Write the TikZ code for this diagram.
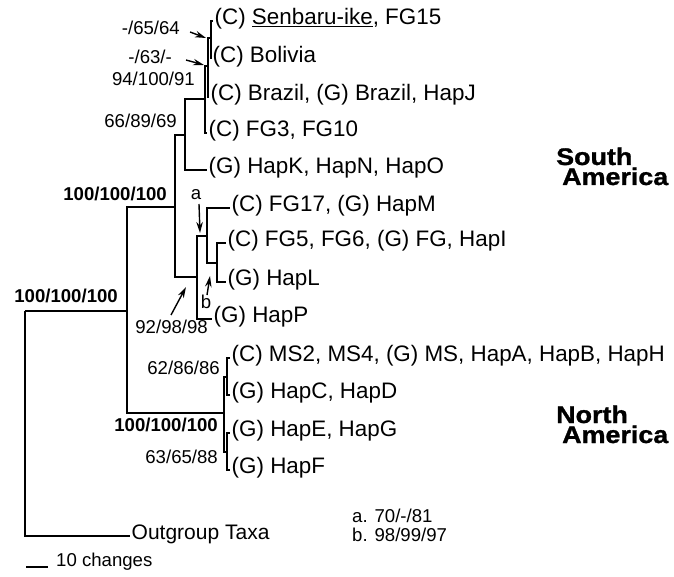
\documentclass[tikz,border=0pt]{standalone}
\usepackage{fontspec}
\setmainfont{Liberation Sans}
\newfontfamily\regionfont[FakeStretch=1.12,FakeBold=1.2]{Liberation Sans Bold}
\usetikzlibrary{arrows.meta}
\tikzset{
  br/.style={line width=1.8pt},                                % tree branch
  tip/.style={anchor=west,inner xsep=1.5pt,inner ysep=0pt,text height=0.9em,text depth=0.18em,
    font=\fontsize{22.4}{26}\selectfont},                      % taxon label
  sup/.style={inner sep=0pt,text height=0.72em,text depth=0pt,font=\fontsize{18.6}{22}\selectfont},
  bsup/.style={sup,font=\fontsize{18.6}{22}\selectfont\bfseries},
  region/.style={anchor=base west,inner sep=0pt,align=left,
    font=\regionfont\fontsize{24}{20}\selectfont},             % two-line area name
  ptr/.style={-{Stealth[length=11pt,width=6.5pt]},line width=1.4pt},
}

\begin{document}
\begin{tikzpicture}[x=1pt,y=-1pt]
  \useasboundingbox (0,0) rectangle (674,577);
  % internal nodes
  \coordinate (root) at (25,311);
  \coordinate (ing)  at (127,311);
  \coordinate (sa)   at (175,207);
  \coordinate (na)   at (224,413);
  \coordinate (u1)   at (185,135);
  \coordinate (u2)   at (205,99);
  \coordinate (u3)   at (208,66);
  \coordinate (u4)   at (211,38);
  \coordinate (l1)   at (197,277);
  \coordinate (ca)   at (207,236);
  \coordinate (cb)   at (217,263);
  \coordinate (n1)   at (227,377);
  \coordinate (n2)   at (227,452);
  % taxa
  \foreach \n/\x/\y/\t in {
    senb/213/21/{(C) \underline{Senbaru-ike}, FG15},
    boli/211/59/{(C) Bolivia},
    braz/209/97/{(C) Brazil, (G) Brazil, HapJ},
    fg3/207/133/{(C) FG3, FG10},
    hapk/207/170/{(G) HapK, HapN, HapO},
    fg17/230/208/{(C) FG17, (G) HapM},
    fg5/226/243/{(C) FG5, FG6, (G) FG, HapI},
    hapl/226/282/{(G) HapL},
    happ/212/319/{(G) HapP},
    ms2/230/358/{(C) MS2, MS4, (G) MS, HapA, HapB, HapH},
    hapc/230/395/{(G) HapC, HapD},
    hape/230/433/{(G) HapE, HapG},
    hapf/230/470/{(G) HapF}}
    \node[tip] (\n) at (\x,\y) {\t};
  \node[tip,font=\fontsize{21}{24}\selectfont] (outg) at (130,536) {Outgroup Taxa};
  % branches
  \foreach \p/\c in {root/ing,root/outg,ing/sa,ing/na,sa/u1,sa/l1,u1/u2,u1/hapk,
      u2/u3,u2/fg3,u3/u4,u3/braz,u4/senb,u4/boli,l1/ca,l1/happ,ca/fg17,ca/cb,
      cb/fg5,cb/hapl,na/n1,na/n2,n1/ms2,n1/hapc,n2/hape,n2/hapf}
    \draw[br] (\p) |- (\c);
  % support values
  \node[bsup,anchor=east] (bRoot) at (118,299) {100/100/100};
  \node[bsup,anchor=east] (bSA)   at (167,197) {100/100/100};
  \node[bsup,anchor=east] (bNA)   at (218,428) {100/100/100};
  \node[sup,anchor=east] (s66) at (177,124) {66/89/69};
  \node[sup,anchor=east] (s94) at (195,82)  {94/100/91};
  \node[sup,anchor=east] (s63) at (172,60)  {-/63/-};
  \node[sup,anchor=east] (s65) at (180,31)  {-/65/64};
  \node[sup,anchor=east] (s92) at (208,330) {92/98/98};
  \node[sup,anchor=east] (s62) at (220,371) {62/86/86};
  \node[sup,anchor=east] (s88) at (218,460) {63/65/88};
  \node[sup,anchor=base] (la) at (196,200) {a};
  \node[sup,anchor=base] (lb) at (206,308) {b};
  % pointers
  \coordinate (p65a) at (190,32);  \coordinate (p65b) at (206,38);
  \coordinate (p63a) at (186,60);  \coordinate (p63b) at (204,65);
  \coordinate (pa0) at (199,204);  \coordinate (pa1) at (200,233);
  \coordinate (pb0) at (207,295);  \coordinate (pb1) at (210,276);
  \coordinate (p92a) at (171,315); \coordinate (p92b) at (186,287);
  \draw[ptr] (p65a) -- (p65b);
  \draw[ptr] (p63a) -- (p63b);
  \draw[ptr] (pa0) -- (pa1);
  \draw[ptr] (pb0) -- (pb1);
  \draw[ptr] (p92a) -- (p92b);
  % regions
  \node[region] (sam) at (556,185) {South\\\hspace*{6pt}America};
  \node[region] (nam) at (556,443) {North\\\hspace*{6pt}America};
  % key and scale
  \node[sup,anchor=west] (ka) at (352,518.5) {a. 70/-/81};
  \node[sup,anchor=west] (kb) at (352,537.5) {b. 98/99/97};
  \coordinate (sb0) at (26,567);
  \coordinate (sb1) at (48,567);
  \draw[br,line width=1.5pt] (sb0) -- (sb1);
  \node[sup,anchor=west] (sbl) at (56,563) {10 changes};
\end{tikzpicture}
\end{document}
